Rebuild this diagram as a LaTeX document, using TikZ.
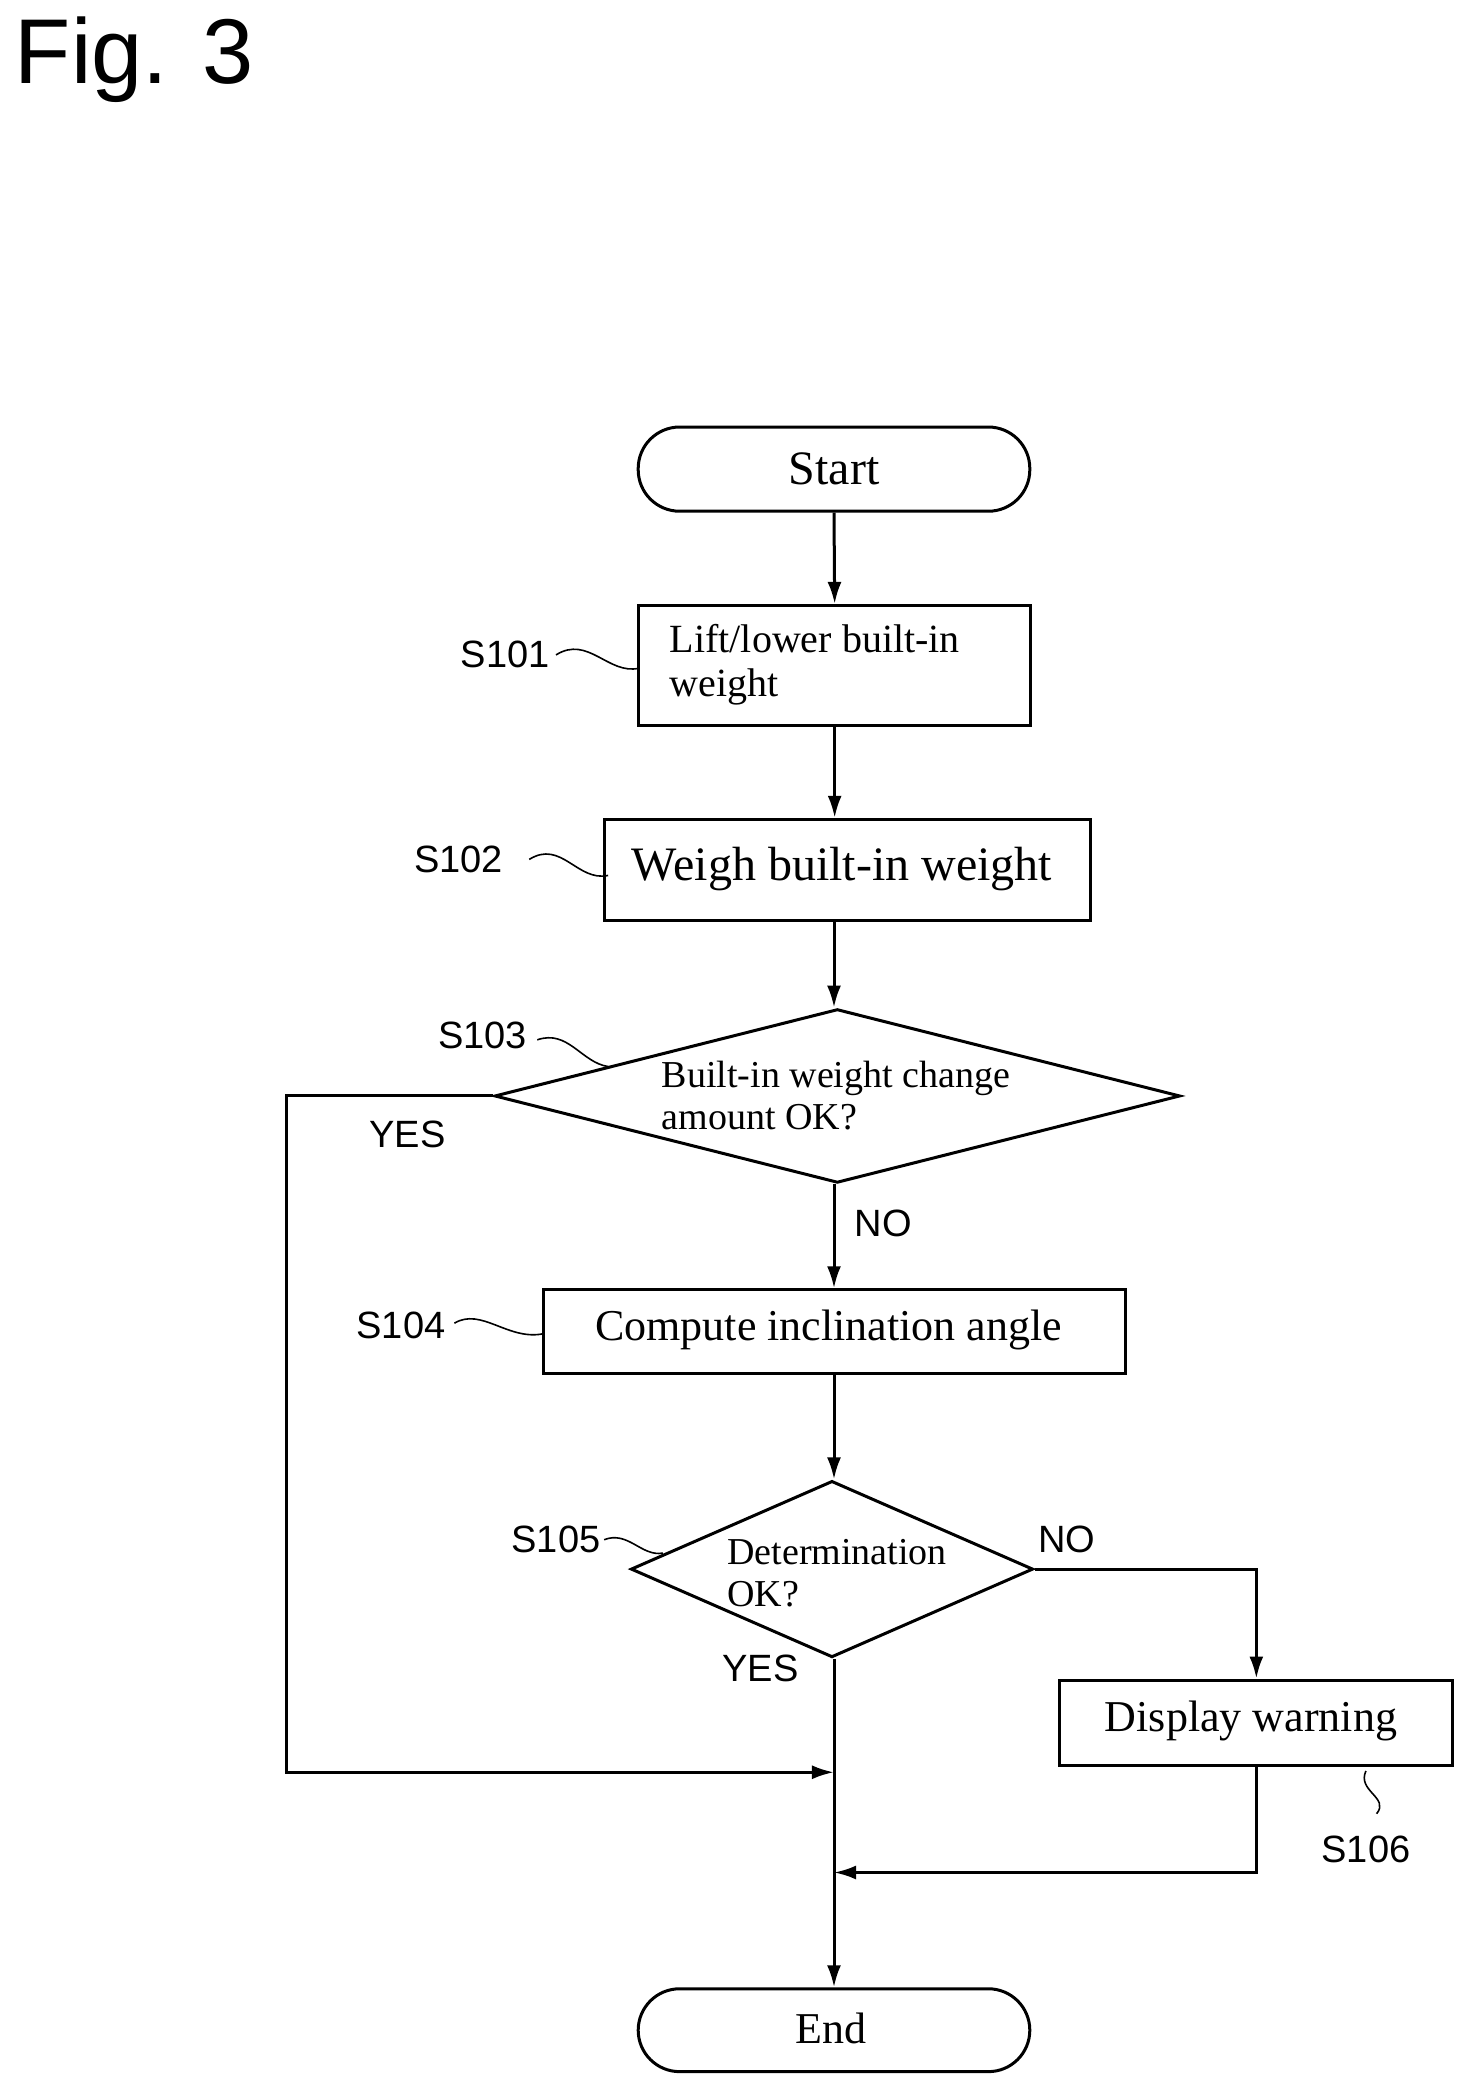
\documentclass[tikz,border=0pt]{standalone}
\usepackage{fontspec}
\setmainfont{Liberation Serif}
\newfontfamily\lab{Liberation Sans}
\usetikzlibrary{shapes.geometric,arrows.meta}
\begin{document}
\begin{tikzpicture}[x=0.668pt,y=-0.668pt,line width=1.5pt,
  box/.style={draw,rectangle,inner sep=0},
  term/.style={draw,rounded rectangle,inner sep=0},
  dia/.style={draw,diamond,inner sep=0},
  arr/.style={-{Latex[length=11pt,width=7pt]}},
  sq/.style={line width=0.8pt},
  lbl/.style={font=\lab\fontsize{19}{22}\selectfont,inner sep=0},
  txt/.style={font=\fontsize{21}{24}\selectfont,inner sep=0,align=left}]
\useasboundingbox (0,0) rectangle (1100,1563);
\node[anchor=west,inner sep=0,font=\lab\fontsize{46}{50}\selectfont] (fig) at (10,45) {Fig. 3};
\usetikzlibrary{shapes.misc}
\node[draw,rounded corners=31*0.668pt,minimum width={293*0.668pt},minimum height={63*0.668pt},inner sep=0] (start) at (624,351) {};
\node[inner sep=0,font=\fontsize{24}{28}\selectfont] (startt) at (624,351) {Start};
\node[box,minimum width={293*0.668pt},minimum height={90*0.668pt}] (s101) at (624.5,498) {};
\node[txt,anchor=west,font=\fontsize{20}{22}\selectfont] (s101t) at (500,497) {Lift/lower built-in\\weight};
\node[box,minimum width={364*0.668pt},minimum height={76*0.668pt}] (s102) at (634,651) {};
\node[inner sep=0,font=\fontsize{24}{28}\selectfont] (s102t) at (630,650) {Weigh built-in weight};
\node[dia,minimum width={513*0.668pt},minimum height={130*0.668pt}] (s103) at (626.5,820) {};
\node[txt,anchor=west,font=\fontsize{19}{21}\selectfont] (s103t) at (494,820) {Built-in weight change\\amount OK?};
\node[box,minimum width={435*0.668pt},minimum height={63*0.668pt}] (s104) at (624.5,996.5) {};
\node[inner sep=0,font=\fontsize{22}{26}\selectfont] (s104t) at (620,995) {Compute inclination angle};
\node[dia,minimum width={301*0.668pt},minimum height={132*0.668pt}] (s105) at (622.5,1174) {};
\node[txt,anchor=west,font=\fontsize{19}{21}\selectfont] (s105t) at (543,1177) {Determination\\OK?};
\node[box,minimum width={294*0.668pt},minimum height={64*0.668pt}] (s106) at (940,1289) {};
\node[inner sep=0,font=\fontsize{22}{26}\selectfont] (s106t) at (936,1288) {Display warning};
\node[draw,rounded corners=31*0.668pt,minimum width={293*0.668pt},minimum height={62*0.668pt},inner sep=0] (end) at (624,1519) {};
\node[inner sep=0,font=\fontsize{22}{26}\selectfont] (endt) at (622,1518) {End};
% connectors
\draw[arr] (start.south) -- (s101.north);
\draw[arr] (s101.south) -- (s102.north-|s101.south);
\draw[arr] (s102.south-|start.south) -- (s103.north-|start.south);
\draw[arr] (s103.south-|start.south) -- (s104.north-|start.south);
\draw[arr] (s104.south-|start.south) -- (s105.north-|start.south);
\draw[arr] (s105.south-|start.south) -- (end.north);
\coordinate (m1) at (624,1326);
\coordinate (m2) at (624,1401);
\draw[arr] (s103.west) -| (214,1326) -- (m1);
\draw[arr] (s105.east) -| (s106.north);
\draw[arr] (s106.south) |- (m2);
% labels
\node[lbl] (y1) at (305,849) {YES};
\node[lbl] (n1) at (661,915) {NO};
\node[lbl] (n2) at (798,1152) {NO};
\node[lbl] (y2) at (569,1248) {YES};
\node[lbl] (l1) at (378,490) {S101};
\node[lbl] (l2) at (343,643) {S102};
\node[lbl] (l3) at (361,775) {S103};
\node[lbl] (l4) at (300,992) {S104};
\node[lbl] (l5) at (416,1152) {S105};
\node[lbl] (l6) at (1022,1384) {S106};
\draw[sq] (416,490) .. controls (440,475) and (455,505) .. (478,500);
\draw[sq] (396,643) .. controls (420,628) and (432,660) .. (455,655);
\draw[sq] (402,778) .. controls (425,770) and (435,795) .. (455,798);
\draw[sq] (340,990) .. controls (360,978) and (380,1003) .. (406,998);
\draw[sq] (452,1152) .. controls (470,1145) and (480,1165) .. (496,1162);
\draw[sq] (1030,1357) .. controls (1040,1345) and (1015,1340) .. (1022,1325);
\end{tikzpicture}
\end{document}
